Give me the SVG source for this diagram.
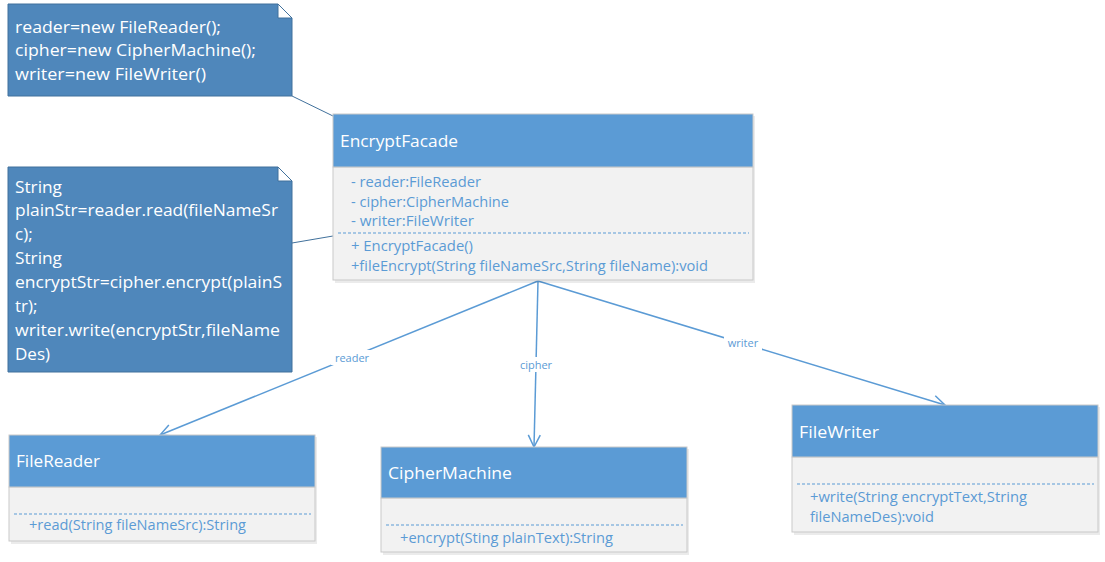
<svg xmlns="http://www.w3.org/2000/svg" width="1105" height="562" viewBox="0 0 1105 562">
  <defs>
    <style>
      .note { fill: #4f87bb; stroke: #41719c; stroke-width: 1; }
      .fold { fill: #ffffff; stroke: #41719c; stroke-width: 1; }
      .notetxt { font-family: "Open Sans", "Liberation Sans", sans-serif; font-size: 17px; fill: #ffffff; }
      .head { fill: #5b9bd5; stroke: #c9c9c9; stroke-width: 1; }
      .body { fill: #f2f2f2; stroke: #c9c9c9; stroke-width: 1; }
      .shadow { fill: #000000; opacity: 0.08; }
      .title { font-family: "Open Sans", "Liberation Sans", sans-serif; font-size: 17px; fill: #ffffff; }
      .member { font-family: "Open Sans", "Liberation Sans", sans-serif; font-size: 14px; fill: #5b9bd5; }
      .sep { stroke: #5b9bd5; stroke-width: 1; stroke-dasharray: 3 2; }
      .link { stroke: #5b9bd5; stroke-width: 1.5; fill: none; }
      .anchor { stroke: #41719c; stroke-width: 1; fill: none; }
      .lbl { font-family: "Open Sans", "Liberation Sans", sans-serif; font-size: 11px; fill: #5b9bd5; text-anchor: middle; }
      .lblbg { fill: #ffffff; }
    </style>
    <marker id="open" viewBox="0 0 14 14" refX="13" refY="7" markerWidth="14" markerHeight="14" markerUnits="userSpaceOnUse" orient="auto">
      <path d="M1,1 L13,7 L1,13" fill="none" stroke="#5b9bd5" stroke-width="1.5"/>
    </marker>
  </defs>

  <!-- note anchors and associations -->
  <g id="connectors">
    <line class="anchor" x1="292" y1="96" x2="333" y2="116"/>
    <line class="anchor" x1="292" y1="243" x2="333" y2="236"/>

    <line class="link" x1="538" y1="281" x2="160" y2="435" marker-end="url(#open)"/>
    <line class="link" x1="538" y1="281" x2="534" y2="447" marker-end="url(#open)"/>
    <line class="link" x1="538" y1="281" x2="945" y2="405" marker-end="url(#open)"/>

    <rect class="lblbg" x="331" y="350" width="42" height="15"/>
    <text class="lbl" x="352" y="362">reader</text>
    <rect class="lblbg" x="517" y="357" width="38" height="15"/>
    <text class="lbl" x="536" y="369">cipher</text>
    <rect class="lblbg" x="724" y="335" width="38" height="15"/>
    <text class="lbl" x="743" y="347">writer</text>
  </g>

  <!-- constructor note -->
  <g id="note-init">
    <path class="note" d="M8,4 H278 L292,18 V96 H8 Z"/>
    <path class="fold" d="M278,4 L292,18 H278 Z"/>
    <text class="notetxt" x="15" y="33" textLength="206" lengthAdjust="spacingAndGlyphs">reader=new FileReader();</text>
    <text class="notetxt" x="15" y="56" textLength="241" lengthAdjust="spacingAndGlyphs">cipher=new CipherMachine();</text>
    <text class="notetxt" x="15" y="80" textLength="191" lengthAdjust="spacingAndGlyphs">writer=new FileWriter()</text>
  </g>

  <!-- fileEncrypt note -->
  <g id="note-encrypt">
    <path class="note" d="M8,167 H278 L292,181 V372 H8 Z"/>
    <path class="fold" d="M278,167 L292,181 H278 Z"/>
    <text class="notetxt" x="15" y="193" textLength="47" lengthAdjust="spacingAndGlyphs">String</text>
    <text class="notetxt" x="15" y="216" textLength="263" lengthAdjust="spacingAndGlyphs">plainStr=reader.read(fileNameSr</text>
    <text class="notetxt" x="15" y="240">c);</text>
    <text class="notetxt" x="15" y="264" textLength="47" lengthAdjust="spacingAndGlyphs">String</text>
    <text class="notetxt" x="15" y="288" textLength="267" lengthAdjust="spacingAndGlyphs">encryptStr=cipher.encrypt(plainS</text>
    <text class="notetxt" x="15" y="312">tr);</text>
    <text class="notetxt" x="15" y="336" textLength="265" lengthAdjust="spacingAndGlyphs">writer.write(encryptStr,fileName</text>
    <text class="notetxt" x="15" y="360">Des)</text>
  </g>

  <!-- EncryptFacade class -->
  <g id="class-encryptfacade">
    <rect class="shadow" x="335" y="116" width="420" height="167"/>
    <rect class="body" x="333" y="167" width="420" height="113"/>
    <rect class="head" x="333" y="114" width="420" height="53"/>
    <text class="title" x="340" y="147" textLength="118" lengthAdjust="spacingAndGlyphs">EncryptFacade</text>
    <text class="member" x="351" y="187" textLength="130" lengthAdjust="spacingAndGlyphs">- reader:FileReader</text>
    <text class="member" x="351" y="207" textLength="158" lengthAdjust="spacingAndGlyphs">- cipher:CipherMachine</text>
    <text class="member" x="351" y="226" textLength="123" lengthAdjust="spacingAndGlyphs">- writer:FileWriter</text>
    <line class="sep" x1="338" y1="233" x2="749" y2="233"/>
    <text class="member" x="351" y="251" textLength="122" lengthAdjust="spacingAndGlyphs">+ EncryptFacade()</text>
    <text class="member" x="351" y="271" textLength="357" lengthAdjust="spacingAndGlyphs">+fileEncrypt(String fileNameSrc,String fileName):void</text>
  </g>

  <!-- FileReader class -->
  <g id="class-filereader">
    <rect class="shadow" x="11" y="437" width="306" height="107"/>
    <rect class="body" x="9" y="487" width="306" height="54"/>
    <rect class="head" x="9" y="435" width="306" height="52"/>
    <text class="title" x="16" y="467" textLength="84" lengthAdjust="spacingAndGlyphs">FileReader</text>
    <line class="sep" x1="14" y1="514" x2="311" y2="514"/>
    <text class="member" x="29" y="530" textLength="217" lengthAdjust="spacingAndGlyphs">+read(String fileNameSrc):String</text>
  </g>

  <!-- CipherMachine class -->
  <g id="class-ciphermachine">
    <rect class="shadow" x="383" y="449" width="306" height="106"/>
    <rect class="body" x="381" y="498" width="306" height="54"/>
    <rect class="head" x="381" y="447" width="306" height="51"/>
    <text class="title" x="388" y="479" textLength="124" lengthAdjust="spacingAndGlyphs">CipherMachine</text>
    <line class="sep" x1="386" y1="525" x2="683" y2="525"/>
    <text class="member" x="400" y="543" textLength="213" lengthAdjust="spacingAndGlyphs">+encrypt(Sting plainText):String</text>
  </g>

  <!-- FileWriter class -->
  <g id="class-filewriter">
    <rect class="shadow" x="794" y="407" width="306" height="128"/>
    <rect class="body" x="792" y="457" width="306" height="75"/>
    <rect class="head" x="792" y="405" width="306" height="52"/>
    <text class="title" x="799" y="438" textLength="80" lengthAdjust="spacingAndGlyphs">FileWriter</text>
    <line class="sep" x1="797" y1="484" x2="1094" y2="484"/>
    <text class="member" x="810" y="502" textLength="217" lengthAdjust="spacingAndGlyphs">+write(String encryptText,String</text>
    <text class="member" x="810" y="522" textLength="124" lengthAdjust="spacingAndGlyphs">fileNameDes):void</text>
  </g>
</svg>
